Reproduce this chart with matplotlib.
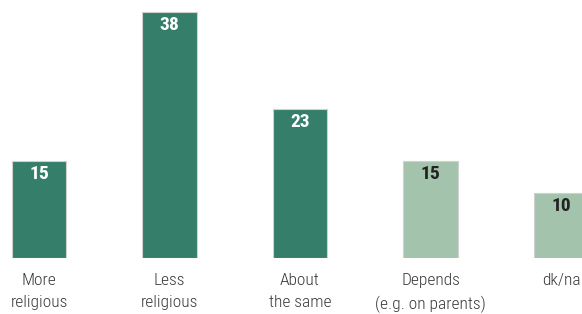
import matplotlib
matplotlib.use('Agg')
import matplotlib.pyplot as plt

# data
categories = ['More\nreligious', 'Less\nreligious', 'About\nthe same',
              'Depends\n(e.g. on parents)', 'dk/na']
values = [15, 38, 23, 15, 10]
colors = ['#357f6a', '#357f6a', '#357f6a', '#a3c3ac', '#a3c3ac']
label_colors = ['white', 'white', 'white', '#222222', '#222222']

plt.rcParams['font.family'] = ['Roboto Condensed', 'Archivo Narrow', 'DejaVu Sans']

fig = plt.figure(figsize=(5.82, 3.14), dpi=100)
ax = fig.add_axes([0, 0.1783, 1, 0.8217])

x = list(range(len(values)))
ax.bar(x, values, width=0.414, color=colors, edgecolor='#d0d0d0', linewidth=0.8)

for xi, v, c in zip(x, values, label_colors):
    ax.text(xi, v - 0.55, str(v), ha='center', va='top', color=c,
            fontsize=14, fontweight='bold')

ax.set_xlim(-0.2989, 4.161)
ax.set_ylim(0, 39.88)
ax.set_xticks(x)
ax.set_xticklabels(categories, fontsize=12.5, color='#3a3a3a', linespacing=1.6,
                   fontweight='light')
ax.tick_params(axis='x', length=0, pad=11)
ax.set_yticks([])
for s in ax.spines.values():
    s.set_visible(False)

fig.savefig('out.png', dpi=100)
